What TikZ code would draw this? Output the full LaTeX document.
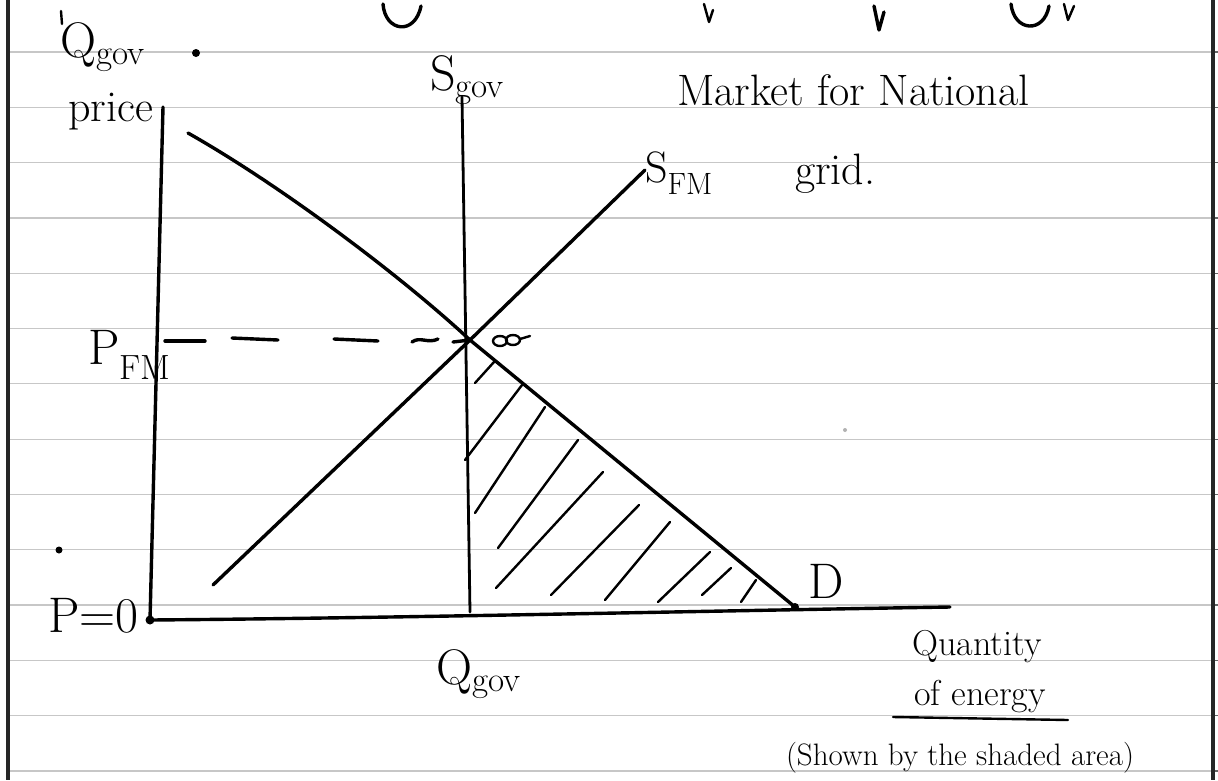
\documentclass[tikz,border=0pt]{standalone}
\usepackage{fontspec}
\begin{document}
\begin{tikzpicture}[x=1pt,y=-1pt,
  ink/.style={line width=3.4pt, line cap=round, line join=round, black},
  thinink/.style={line width=2.4pt, line cap=round, line join=round, black},
  rule/.style={line width=1.2pt, black!22},
  margin/.style={line width=3.2pt, black!85},
  lbl/.style={inner sep=0pt, anchor=base west, text=black},
  big/.style={font=\fontsize{50}{54}\selectfont},
  mid/.style={font=\fontsize{44}{48}\selectfont},
  small/.style={font=\fontsize{36}{40}\selectfont},
  tiny/.style={font=\fontsize{31}{34}\selectfont}
]
\useasboundingbox (0,0) rectangle (1218,780);
\fill[white] (0,0) rectangle (1218,780);
% ruled paper
\foreach \i in {0,...,13} {
  \draw[rule] (8,52+55.3*\i) -- (1213,52+55.3*\i);
  \draw[line width=1.2pt, black!60] (1213,52+55.3*\i) -- (1218,52+55.3*\i);
}
\draw[margin] (8,0) -- (8,780);
\draw[margin] (1213,0) -- (1213,780);

% cut-off handwriting fragments at the top
\draw[ink] (383,4) .. controls (385,32) and (415,36) .. (421,6);
\draw[thinink] (704,4) -- (709,22) -- (713,10);
\draw[ink] (874,6) -- (879,30) -- (884,12);
\draw[ink] (1011,4) .. controls (1014,32) and (1044,34) .. (1049,6);
\draw[thinink] (1064,4) -- (1068,20) -- (1074,6);
\draw[thinink] (61,11) -- (62,24);

% key points
\coordinate (O) at (150,620);
\coordinate (Ytop) at (163,107);
\coordinate (Xend) at (950,607);
\coordinate (E) at (470,340);
\coordinate (Dtop) at (188,133);
\coordinate (Dend) at (795,607);
\coordinate (SGtop) at (462,97);
\coordinate (SGbot) at (470,612);
\coordinate (SFbot) at (213,585);
\coordinate (SFtop) at (645,170);

% hatching of the shaded area
\foreach \a/\b/\c/\d in {475/383/494/362, 465/460/522/385, 475/513/545/407,
  498/548/578/440, 496/588/603/472, 551/595/639/505, 605/600/670/522,
  658/602/710/552, 702/595/731/568, 741/602/756/580}
  \draw[thinink] (\a,\b) -- (\c,\d);

% axes
\draw[ink] (Ytop) -- (O) .. controls (400,618) and (700,611) .. (Xend);
\fill (O) circle (4.5);

% curves
\draw[ink] (Dtop) .. controls (280,185) and (400,275) .. (E) -- (Dend);
\fill (Dend) circle (4);
\draw[line width=2.8pt, line cap=round] (SGtop) -- (SGbot);
\draw[ink] (SFbot) -- (E) -- (SFtop);

% price level P_FM
\draw[ink] (165,341) -- (205,341);
\draw[ink] (232,338) -- (278,340);
\draw[ink] (334,339) -- (378,341);
\draw[ink] (412,342) .. controls (420,336) and (428,344) .. (438,339);
\draw[ink] (453,342) -- (E);

% scribble beside the equilibrium
\draw[thinink] (500,341) ellipse (7 and 5);
\draw[thinink] (513,340) ellipse (7 and 5);
\draw[thinink] (520,339) -- (530,336);

% labels
\node[lbl, big] (qgovtop) at (60,57) {Q\textsubscript{gov}};
\fill (196,53) circle (4);
\node[lbl, mid] (price) at (68,121) {price};
\node[lbl, big] (sgov) at (430,90) {S\textsubscript{gov}};
\node[lbl, mid] (sfm) at (645,182) {S\textsubscript{FM}};
\node[lbl, mid] (title1) at (677,105) {Market for National};
\node[lbl, mid] (title2) at (795,184) {grid.};
\node[lbl, big] (pfm) at (88,364) {P\textsubscript{FM}};
\node[lbl, big] (p0) at (48,632) {P=0};
\node[lbl, big] (qgov) at (436,684) {Q\textsubscript{gov}};
\node[lbl, big] (dlbl) at (808,598) {D};
\fill (59,550) circle (3.5);
\fill[black!30] (845,430) circle (2);
\node[small, inner sep=0pt, anchor=base] (qty) at (977,655) {Quantity};
\node[small, inner sep=0pt, anchor=base] (energy) at (980,705) {of energy};
\draw[thinink] (893,717) -- (1068,720);
\node[tiny, inner sep=0pt, anchor=base] (shown) at (960,765) {(Shown by the shaded area)};
\end{tikzpicture}
\end{document}
